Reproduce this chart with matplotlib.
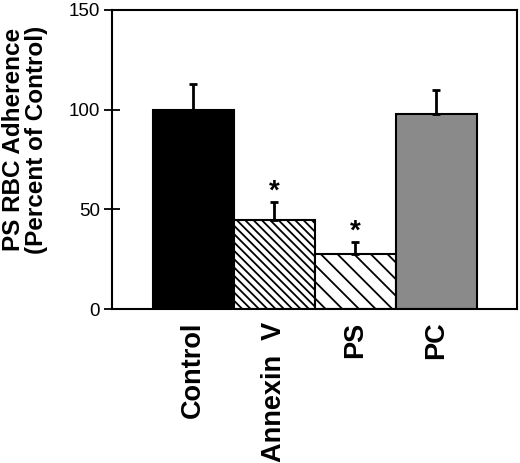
import matplotlib
matplotlib.use("Agg")
import matplotlib.pyplot as plt

categories = ["Control", "Annexin  V", "PS", "PC"]
values = [100, 44.5, 27.5, 98]
errors = [13, 9, 6, 12]
colors = ["#000000", "#ffffff", "#ffffff", "#8a8a8a"]
hatches = [None, "\\\\\\\\", "\\\\", None]
significant = [False, True, True, False]
yticks = [0, 50, 100, 150]

plt.rcParams['font.family'] = ['Liberation Sans', 'DejaVu Sans']
plt.rcParams['hatch.linewidth'] = 1.3

fig = plt.figure(figsize=(5.2, 4.63), dpi=100)
ax = fig.add_axes([112/520, 1 - 309/463, 405/520, 299/463])

x = list(range(len(categories)))
for i in x:
    ax.bar(i, values[i], width=1.0, color=colors[i], edgecolor="black",
           linewidth=1.5, hatch=hatches[i], zorder=2)
ax.errorbar(x, values, yerr=[[0]*len(values), errors], fmt="none",
            ecolor="black", elinewidth=2, capsize=3, capthick=2, zorder=3)
for i in x:
    if significant[i]:
        ax.text(i, values[i] + errors[i] + 5.5, "*", ha="center", va="center",
                fontsize=20, fontweight="bold")

ax.set_xlim(-1, 4)
ax.set_ylim(0, 150)
ax.set_yticks(yticks)
ax.set_yticklabels([str(t) for t in yticks], fontsize=13.5)
ax.tick_params(axis="y", direction="inout", length=11, width=1.3, pad=3)
ax.set_xticks(x)
ax.set_xticklabels(categories, rotation=90, fontsize=19.5, fontweight="bold",
                   va="top", ha="center")
ax.tick_params(axis="x", length=0, pad=9)
for s in ax.spines.values():
    s.set_linewidth(1.5)

ax.set_ylabel("PS RBC Adherence\n(Percent of Control)", fontsize=17.5,
              fontweight="bold", linespacing=1.0, va="center")
ax.yaxis.set_label_coords(-0.215, 0.567)

fig.savefig("out.png", dpi=100)
